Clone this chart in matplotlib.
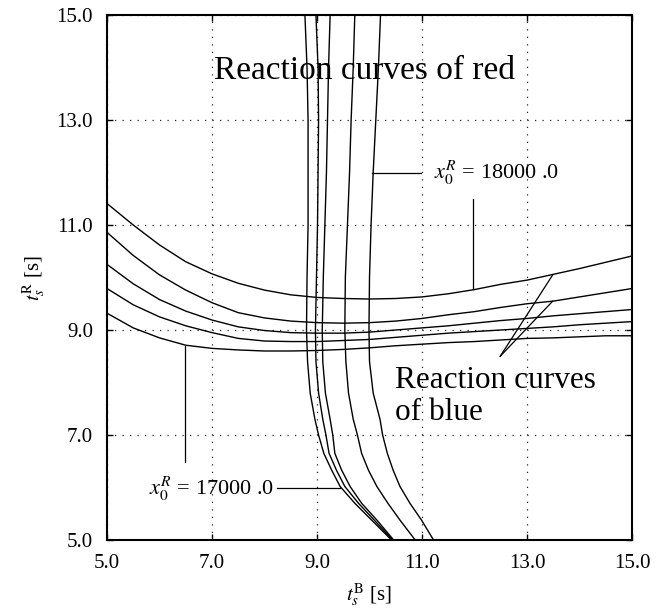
import matplotlib
matplotlib.use("Agg")
import matplotlib.pyplot as plt
from matplotlib.ticker import FormatStrFormatter

plt.rcParams["font.family"] = ["Liberation Serif", "DejaVu Serif"]
plt.rcParams["mathtext.fontset"] = "stix"

# blue reaction curves: t_R as a function of t_B (top curve = x0R 18000)
tb_grid = [5.0, 5.5, 6.0, 6.5, 7.0, 7.5, 8.0, 8.5, 9.0, 9.5, 10.0,
           10.5, 11.0, 11.5, 12.0, 12.5, 13.0, 13.5, 14.0, 14.5, 15.0]
blue_18000 = [11.41, 11.00, 10.62, 10.30, 10.07, 9.89, 9.76, 9.67, 9.62, 9.60, 9.59,
              9.60, 9.63, 9.69, 9.77, 9.87, 9.95, 10.06, 10.17, 10.29, 10.41]
blue_17750 = [10.86, 10.42, 10.05, 9.76, 9.52, 9.33, 9.23, 9.17, 9.14, 9.13, 9.14,
              9.17, 9.22, 9.29, 9.35, 9.43, 9.50, 9.55, 9.63, 9.71, 9.79]
blue_17500 = [10.25, 9.88, 9.58, 9.36, 9.19, 9.06, 8.99, 8.95, 8.94, 8.94, 8.96,
              9.00, 9.04, 9.08, 9.13, 9.18, 9.22, 9.27, 9.31, 9.35, 9.39]
blue_17250 = [9.79, 9.48, 9.25, 9.08, 8.95, 8.84, 8.79, 8.78, 8.78, 8.80, 8.82,
              8.86, 8.90, 8.94, 8.97, 9.00, 9.03, 9.06, 9.10, 9.13, 9.16]
blue_17000 = [9.32, 9.04, 8.85, 8.71, 8.65, 8.62, 8.60, 8.60, 8.61, 8.63, 8.66,
              8.70, 8.73, 8.76, 8.78, 8.81, 8.84, 8.85, 8.87, 8.89, 8.89]

# red reaction curves: t_B as a function of t_R (left curve = x0R 17000)
tr_grid = [15.0, 14.0, 13.0, 12.0, 11.0, 10.0, 9.0, 8.4, 7.8, 7.3, 7.0,
           6.65, 6.33, 6.02, 5.70, 5.38, 5.0]
red_17000 = [8.77, 8.81, 8.83, 8.83, 8.83, 8.81, 8.80, 8.82, 8.87, 8.96, 9.03,
             9.13, 9.28, 9.44, 9.72, 10.04, 10.42]
red_17250 = [8.98, 9.02, 9.03, 9.02, 9.01, 8.99, 8.97, 8.98, 9.03, 9.11, 9.17,
             9.23, 9.37, 9.53, 9.79, 10.09, 10.44]
red_17500 = [9.25, 9.22, 9.20, 9.18, 9.15, 9.12, 9.10, 9.11, 9.16, 9.25, 9.30,
             9.34, 9.47, 9.63, 9.85, 10.14, 10.46]
red_17750 = [9.72, 9.69, 9.65, 9.62, 9.58, 9.54, 9.53, 9.55, 9.60, 9.69, 9.77,
             9.85, 9.98, 10.14, 10.35, 10.58, 10.87]
red_18000 = [10.21, 10.17, 10.12, 10.07, 10.03, 10.00, 9.99, 10.00, 10.07, 10.20, 10.25,
             10.34, 10.45, 10.58, 10.77, 10.99, 11.22]

blue_curves = [blue_18000, blue_17750, blue_17500, blue_17250, blue_17000]
red_curves = [red_17000, red_17250, red_17500, red_17750, red_18000]

ticks = [5.0, 7.0, 9.0, 11.0, 13.0, 15.0]

# annotation leaders (data coords)
lead_18000 = [([10.05, 10.98], [12.0, 12.0]), ([11.98, 11.98], [11.49, 9.78])]
lead_17000 = [([8.23, 9.44], [6.0, 6.0]), ([6.49, 6.49], [8.70, 6.49])]
lead_blue = [([12.49, 13.49], [8.50, 10.05]), ([12.49, 13.49], [8.50, 9.55])]

fig = plt.figure(figsize=(6.66, 6.11), dpi=100)
ax = fig.add_axes([107 / 666, 71 / 611, 525 / 666, 525 / 611])

for vals in blue_curves:
    ax.plot(tb_grid, vals, color="black", linewidth=1.0)
for vals in red_curves:
    ax.plot(vals, tr_grid, color="black", linewidth=1.0)

for xs, ys in lead_18000 + lead_17000 + lead_blue:
    ax.plot(xs, ys, color="black", linewidth=0.9)

ax.text(11.22, 12.0, r"$x_0^R$ = 18000 .0", fontsize=16, va="center", ha="left")
ax.text(5.80, 5.98, r"$x_0^R$ = 17000 .0", fontsize=16, va="center", ha="left")
ax.text(7.04, 13.78, "Reaction curves of red", fontsize=24, va="baseline", ha="left")
ax.text(10.49, 7.89, "Reaction curves", fontsize=22.5, va="baseline", ha="left")
ax.text(10.49, 7.29, "of blue", fontsize=22.5, va="baseline", ha="left")

ax.set_xlim(5, 15)
ax.set_ylim(5, 15)
ax.set_xticks(ticks)
ax.set_yticks(ticks)
ax.xaxis.set_major_formatter(FormatStrFormatter("%.1f"))
ax.yaxis.set_major_formatter(FormatStrFormatter("%.1f"))
ax.tick_params(direction="in", length=4, width=1.0, labelsize=15, pad=10,
               top=True, right=True)
ax.grid(True, color="0.15", linewidth=0.9, linestyle=(0, (1, 5)))
for sp in ax.spines.values():
    sp.set_linewidth(1.5)

ax.set_xlabel(r"$t_s^{\mathrm{B}}$ [s]", fontsize=15)
ax.set_ylabel(r"$t_s^{\mathrm{R}}$ [s]", fontsize=15)
ax.xaxis.set_label_coords(0.5, -0.078)
ax.yaxis.set_label_coords(-0.115, 0.5)

fig.savefig("out.png", dpi=100)
